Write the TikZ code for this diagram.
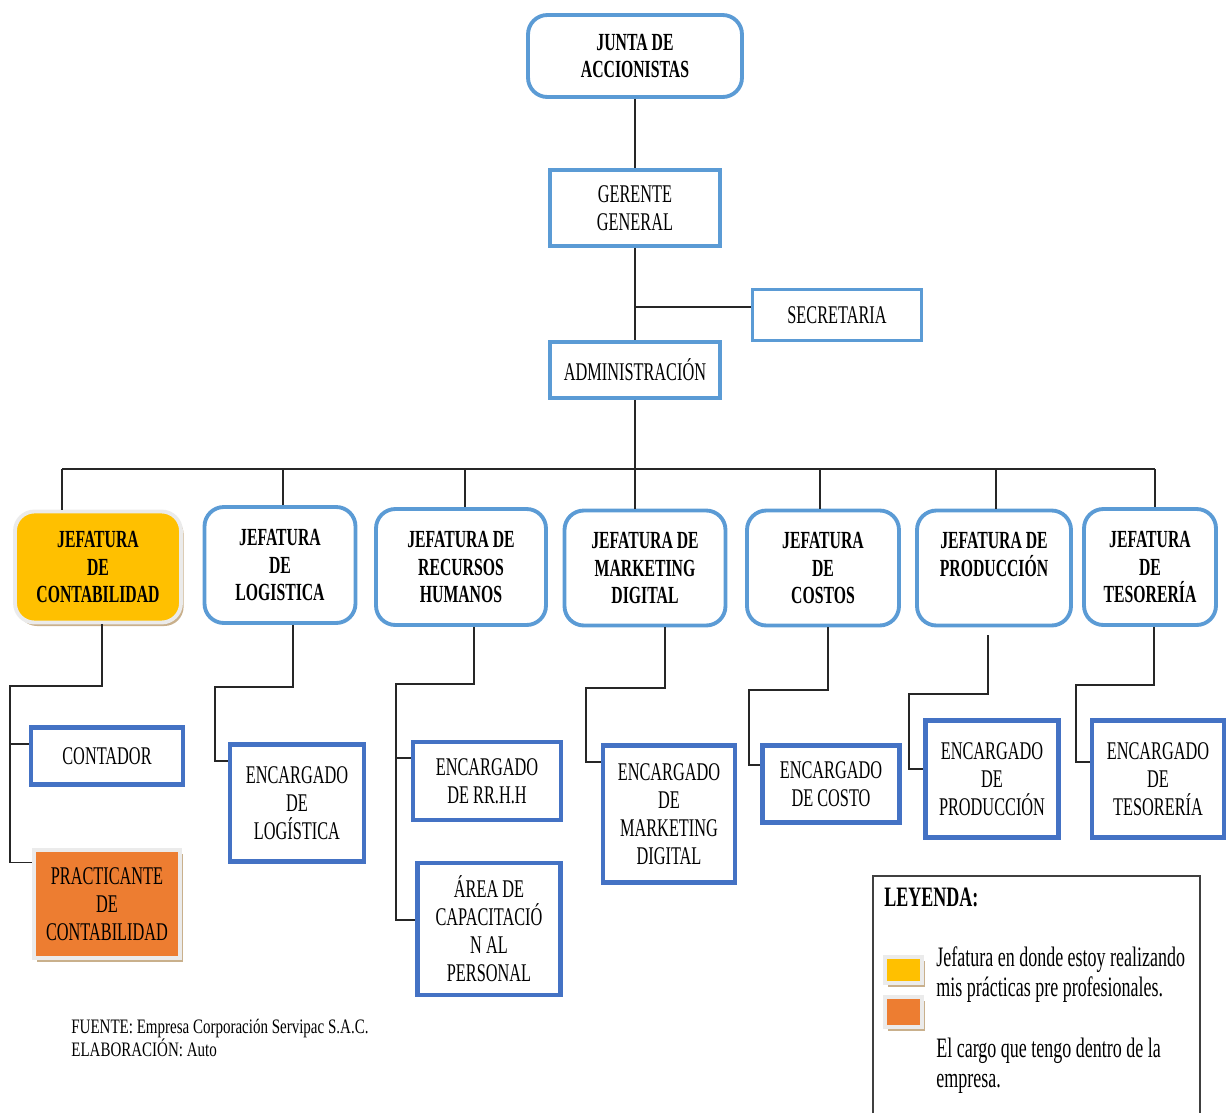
\documentclass[tikz,border=0pt]{standalone}
\usepackage{fontspec}
\setmainfont{Liberation Serif}[FakeStretch=0.64]
\newfontfamily\notafont{Liberation Serif}[FakeStretch=0.73]
\usepackage{tikz}
\usetikzlibrary{positioning,calc,shadows}

\definecolor{azulclaro}{HTML}{5B9BD5}
\definecolor{azul}{HTML}{4472C4}
\definecolor{amarillo}{HTML}{FFC000}
\definecolor{naranja}{HTML}{ED7D31}
\definecolor{sombra}{HTML}{C9B08C}

\begin{document}
\begin{tikzpicture}[x=0.02cm, y=-0.02cm,
  cargo/.style={draw=azulclaro, line width=2.2pt, align=center, inner sep=0pt, font=\fontsize{14.5}{15.9}\selectfont},
  jefe/.style={cargo, rounded corners=11pt, font=\fontsize{14}{15.9}\selectfont\bfseries},
  encargado/.style={cargo, draw=azul, line width=2.8pt},
  marcado/.style={draw=black!8, line width=2.2pt, drop shadow={shadow xshift=1.5pt, shadow yshift=-2pt, fill=sombra, opacity=1}},
  linea/.style={line width=1.1pt, black!85},
  texto/.style={anchor=west, align=left, inner sep=0pt}]

\useasboundingbox (0,0) rectangle (1228,1113);

\node[jefe, minimum width=4.28cm, minimum height=1.64cm] (junta) at (635,56) {JUNTA DE\\ACCIONISTAS};
\node[cargo, minimum width=3.40cm, minimum height=1.52cm] (gerente) at (635,208) {GERENTE\\GENERAL};
\node[cargo, minimum width=3.38cm, minimum height=1.02cm] (secret) at (837,315) {SECRETARIA};
\node[cargo, minimum width=3.40cm, minimum height=1.12cm] (admin) at (635,370) {ADMINISTRACIÓN};

\draw[linea] (junta) -- (gerente);
\draw[linea] (gerente) -- (admin);
\draw[linea] (secret.175 -| gerente.south) -- (secret.175);

%%%%%%%%%%%%%%%%%%%%%%%%%%%%%%%%

\node[jefe, marcado, fill=amarillo, minimum width=3.32cm, minimum height=2.22cm] (contab) at (98,567) {JEFATURA\\DE\\CONTABILIDAD};
\node[jefe, minimum width=3.02cm, minimum height=2.32cm] (logist) at (280,565) {JEFATURA\\DE\\LOGISTICA};
\node[jefe, minimum width=3.40cm, minimum height=2.32cm] (rrhh) at (461,567) {JEFATURA DE\\RECURSOS\\HUMANOS};
\node[jefe, minimum width=3.22cm, minimum height=2.30cm] (mkt) at (645,568) {JEFATURA DE\\MARKETING\\DIGITAL};
\node[jefe, minimum width=3.04cm, minimum height=2.30cm] (costos) at (823,568) {JEFATURA\\DE\\COSTOS};
\node[jefe, minimum width=3.08cm, minimum height=2.30cm] (prod) at (994,568) {JEFATURA DE\\PRODUCCIÓN\\\mbox{}};
\node[jefe, minimum width=2.64cm, minimum height=2.32cm] (tes) at (1150,567) {JEFATURA\\DE\\TESORERÍA};

\coordinate (bus) at ($(admin.south)+(0,69)$);
\draw[linea] (admin) -- (bus);
\foreach \j/\d in {contab/-36,logist/3,rrhh/4,mkt/-10,costos/-3,prod/2,tes/5}{
  \coordinate (c\j) at ($(\j.north)+(\d,0)$);
  \draw[linea] (c\j) -- (c\j |- bus);
}
\draw[linea] (ccontab |- bus) -- (ctes |- bus);

%%%%%%%%%%%%%%%%%%%%%%%%%%%%%%%%

\node[encargado, minimum width=3.04cm, minimum height=1.14cm] (contador) at (107,756) {CONTADOR};
\node[cargo, marcado, fill=naranja, minimum width=2.92cm, minimum height=2.16cm] (pract) at (107,904) {PRACTICANTE\\DE\\CONTABILIDAD};
\node[encargado, minimum width=2.68cm, minimum height=2.34cm] (enclog) at (297,803) {ENCARGADO\\DE\\LOGÍSTICA};
\node[encargado, minimum width=2.96cm, minimum height=1.56cm] (encrh) at (487,781) {ENCARGADO\\DE RR.H.H};
\node[encargado, minimum width=2.86cm, minimum height=2.64cm] (area) at (489,929) {ÁREA DE\\CAPACITACIÓ\\N AL\\PERSONAL};
\node[encargado, minimum width=2.64cm, minimum height=2.74cm] (encmkt) at (669,814) {ENCARGADO\\DE\\MARKETING\\DIGITAL};
\node[encargado, minimum width=2.74cm, minimum height=1.54cm] (enccosto) at (831,784) {ENCARGADO\\DE COSTO};
\node[encargado, minimum width=2.66cm, minimum height=2.34cm] (encprod) at (992,779) {ENCARGADO\\DE\\PRODUCCIÓN};
\node[encargado, minimum width=2.64cm, minimum height=2.34cm] (enctes) at (1158,779) {ENCARGADO\\DE\\TESORERÍA};

\coordinate (t1) at ($(pract.151)+(-22,0)$);
\draw[linea] ($(contab.south)+(4,0)$) -- ++(0,62) -| (t1) -- (pract.151);
\draw[linea] (contador.171 -| t1) -- (contador.171);

\coordinate (t2) at ($(enclog.149)+(-13,0)$);
\draw[linea] ($(logist.south)+(13,0)$) -- ++(0,62) -| (t2) -- (enclog.149);

\coordinate (t3) at ($(area.173)+(-19.5,0)$);
\draw[linea] ($(rrhh.south)+(13,0)$) -- ++(0,57) -| (t3) -- (area.173);
\draw[linea] (encrh.163 -| t3) -- (encrh.163);

\coordinate (t4) at ($(encmkt.143)+(-15,0)$);
\draw[linea] ($(mkt.south)+(20,0)$) -- ++(0,60.5) -| (t4) -- (encmkt.143);

\coordinate (t5) at ($(enccosto.165)+(-11.5,0)$);
\draw[linea] ($(costos.south)+(5,0)$) -- ++(0,62.5) -| (t5) -- (enccosto.165);

\coordinate (t6) at ($(encprod.172)+(-14.5,0)$);
\draw[linea] ($(prod.south)+(-6,8)$) -- ++(0,58.5) -| (t6) -- (encprod.172);

\coordinate (t7) at ($(enctes.166)+(-14,0)$);
\draw[linea] ($(tes.south)+(4,0)$) -- ++(0,58) -| (t7) -- (enctes.166);

%%%%%%%%%%%%%%%%%%%%%%%%%%%%%%%%

\draw[black!75, line width=0.9pt] (873,1113) |- (1200,876) -- (1200,1113);
\node[texto, font=\fontsize{16}{17}\selectfont\bfseries] (leyenda) at (884,897) {LEYENDA:};
\node[marcado, fill=amarillo, minimum width=0.74cm, minimum height=0.52cm, inner sep=0pt] (swamarillo) at (903.5,970) {};
\node[marcado, fill=naranja, minimum width=0.74cm, minimum height=0.60cm, inner sep=0pt] (swnaranja) at (903.5,1012) {};
\node[texto, font=\fontsize{16}{17}\selectfont] (txtjefe) at (936,975) {Jefatura en donde estoy realizando\\mis prácticas pre profesionales.};
\node[texto, font=\fontsize{16}{17}\selectfont] (txtcargo) at (936,1066) {El cargo que tengo dentro de la\\empresa.};

\node[texto, font=\notafont\fontsize{11.7}{13}\selectfont] (fuente) at (71,1038) {FUENTE: Empresa Corporación Servipac S.A.C.\\ELABORACIÓN: Auto};

\end{tikzpicture}
\end{document}
